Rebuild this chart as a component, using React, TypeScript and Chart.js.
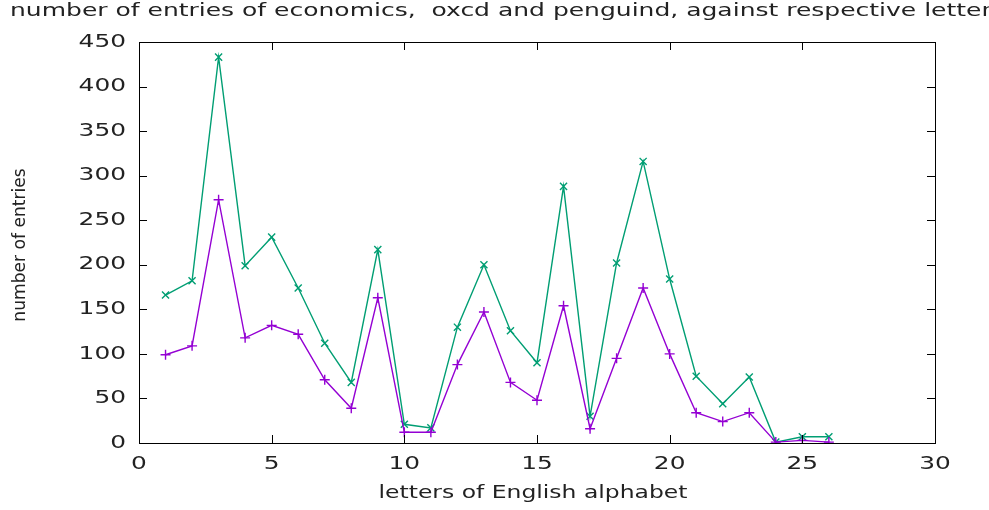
import React, { useEffect, useRef } from "react";
import { Chart, registerables } from "chart.js";
Chart.register(...registerables);

const letters = Array.from({ length: 26 }, (_, i) => i + 1);
const penguind = [166, 182, 433, 199, 231, 174, 112, 68, 217, 21, 17, 130, 200, 126, 90, 288, 30, 202, 316, 184, 75, 44, 74, 1, 7, 7];
const economics = [99, 109, 273, 118, 132, 122, 71, 39, 163, 12, 12, 88, 147, 68, 48, 154, 16, 95, 174, 100, 34, 24, 34, 1, 3, 1];
const xTicks = [0, 5, 10, 15, 20, 25, 30];
const yTicks = [0, 50, 100, 150, 200, 250, 300, 350, 400, 450];
const titleText = "number of entries of economics,  oxcd and penguind, against respective letters";
const xTitle = "letters of English alphabet";
const yTitle = "number of entries";
const FONT = "DejaVu Sans";

function stretched(ctx: any, text: string, x: number, y: number, align: string, sx = 1.38) {
  ctx.save();
  ctx.translate(x, y);
  ctx.scale(sx, 1);
  ctx.textAlign = align;
  ctx.fillText(text, 0, 0);
  ctx.restore();
}

const boxPlugin = {
  id: "box",
  afterDraw(chart: any) {
    const { ctx, chartArea: a, scales } = chart;
    ctx.save();
    ctx.strokeStyle = "#000";
    ctx.lineWidth = 1;
    ctx.strokeRect(a.left + 0.5, a.top + 0.5, a.right - a.left, a.bottom - a.top);
    const L = 8;
    ctx.beginPath();
    for (const v of xTicks) {
      const x = Math.round(scales.x.getPixelForValue(v)) + 0.5;
      ctx.moveTo(x, a.bottom); ctx.lineTo(x, a.bottom - L);
      ctx.moveTo(x, a.top); ctx.lineTo(x, a.top + L);
    }
    for (const v of yTicks) {
      const y = Math.round(scales.y.getPixelForValue(v)) + 0.5;
      ctx.moveTo(a.left, y); ctx.lineTo(a.left + L, y);
      ctx.moveTo(a.right, y); ctx.lineTo(a.right - L, y);
    }
    ctx.stroke();
    ctx.fillStyle = "#222";
    ctx.font = `17px "${FONT}"`;
    ctx.textBaseline = "middle";
    stretched(ctx, titleText, 10, 12, "left", 1.47);
    ctx.font = `18px "${FONT}"`;
    for (const v of xTicks) stretched(ctx, String(v), scales.x.getPixelForValue(v), 464, "center");
    for (const v of yTicks) stretched(ctx, String(v), 126, scales.y.getPixelForValue(v), "right");
    ctx.font = `17px "${FONT}"`;
    stretched(ctx, xTitle, 533, 494, "center");
    ctx.save();
    ctx.translate(20, 245);
    ctx.rotate(-Math.PI / 2);
    ctx.scale(0.95, 1.0);
    ctx.textAlign = "center";
    ctx.font = `18px "${FONT}"`;
    ctx.fillText(yTitle, 0, 0);
    ctx.restore();
    ctx.restore();
  },
};

export default function App() {
  const ref = useRef<HTMLCanvasElement>(null);
  useEffect(() => {
    document.body.style.margin = "0";
    const chart = new Chart(ref.current!, {
      type: "line",
      data: {
        datasets: [
          {
            label: "economics",
            data: letters.map((x, i) => ({ x, y: economics[i] })),
            borderColor: "#9400d3",
            backgroundColor: "#9400d3",
            pointStyle: "cross",
            pointRadius: 5,
            borderWidth: 1.4,
            pointBorderWidth: 1.4,
          },
          {
            label: "penguind",
            data: letters.map((x, i) => ({ x, y: penguind[i] })),
            borderColor: "#009e73",
            backgroundColor: "#009e73",
            pointStyle: "crossRot",
            pointRadius: 5,
            borderWidth: 1.4,
            pointBorderWidth: 1.4,
          },
        ],
      },
      options: {
        animation: false,
        responsive: false,
        layout: { padding: { top: 42, right: 54, left: 0, bottom: 0 } },
        plugins: { legend: { display: false }, tooltip: { enabled: false } },
        scales: {
          x: {
            type: "linear",
            min: 0,
            max: 30,
            afterFit: (s: any) => { s.height = 67; },
            grid: { display: false, drawTicks: false },
            border: { display: false },
            ticks: { display: false },
          },
          y: {
            min: 0,
            max: 450,
            afterFit: (s: any) => { s.width = 139; },
            grid: { display: false, drawTicks: false },
            border: { display: false },
            ticks: { display: false },
          },
        },
      },
      plugins: [boxPlugin],
    });
    return () => chart.destroy();
  }, []);
  return <canvas ref={ref} width={989} height={510} style={{ display: "block" }} />;
}
